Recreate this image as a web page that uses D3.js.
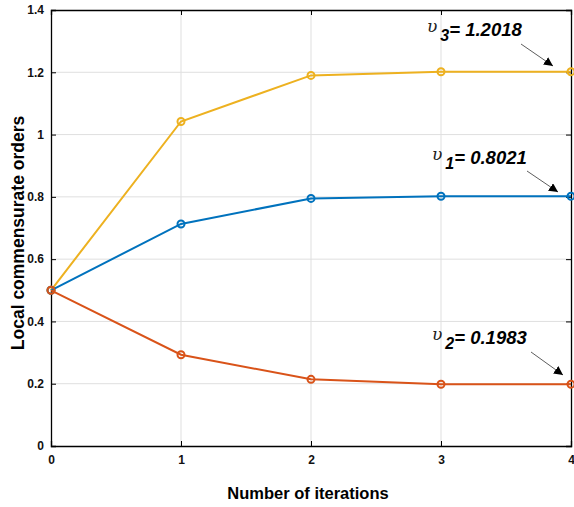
<!DOCTYPE html>
<html><head><meta charset="utf-8">
<script src="https://cdn.jsdelivr.net/npm/d3@7"></script>
<style>body{margin:0;background:#fff}svg{display:block}text{font-family:"Liberation Sans",Arial,sans-serif}</style>
</head><body>
<svg id="c" width="574" height="507"></svg>
<script>
const iterations = [0, 1, 2, 3, 4];
const v3 = [0.5, 1.042, 1.190, 1.2018, 1.2018];
const v1 = [0.5, 0.713, 0.795, 0.8021, 0.8021];
const v2 = [0.5, 0.293, 0.214, 0.1983, 0.1983];
const yTicks = [0, 0.2, 0.4, 0.6, 0.8, 1, 1.2, 1.4];
const xTicks = [0, 1, 2, 3, 4];
const seriesNames = ["v3", "v1", "v2"];
const colors = ["#EDB120", "#0072BD", "#D95319"];
const labels = [["3", "= 1.2018"], ["1", "= 0.8021"], ["2", "= 0.1983"]];

const svg = d3.select("#c");
const L = 51, R = 571, T = 10, B = 446;
const x = d3.scaleLinear().domain([0, 4]).range([L, R]);
const y = d3.scaleLinear().domain([0, 1.4]).range([B, T]);

// grid
svg.append("g").selectAll("line").data(xTicks.slice(1, -1)).join("line")
  .attr("x1", d => x(d)).attr("x2", d => x(d)).attr("y1", T).attr("y2", B)
  .attr("stroke", "#dfdfdf").attr("stroke-width", 1);
svg.append("g").selectAll("line").data(yTicks.slice(1, -1)).join("line")
  .attr("y1", d => y(d)).attr("y2", d => y(d)).attr("x1", L).attr("x2", R)
  .attr("stroke", "#dfdfdf").attr("stroke-width", 1);

// axes
const fmt = d => d === 0 ? "0" : String(+d.toFixed(1));
const ax = svg.append("g").attr("transform", `translate(0,${B})`)
  .call(d3.axisBottom(x).tickValues(xTicks).tickFormat(d3.format("d")).tickSize(-5).tickPadding(9));
const ay = svg.append("g").attr("transform", `translate(${L},0)`)
  .call(d3.axisLeft(y).tickValues(yTicks).tickFormat(fmt).tickSize(-5).tickPadding(7));
const axT = svg.append("g").attr("transform", `translate(0,${T})`)
  .call(d3.axisTop(x).tickValues(xTicks).tickFormat("").tickSize(-5));
const ayR = svg.append("g").attr("transform", `translate(${R},0)`)
  .call(d3.axisRight(y).tickValues(yTicks).tickFormat("").tickSize(-5));
[ax, ay, axT, ayR].forEach(g => {
  g.select(".domain").attr("stroke", "#000").attr("stroke-width", 1.3);
  g.selectAll(".tick line").attr("stroke", "#000");
  g.selectAll("text").attr("font-size", 12).attr("font-weight", "bold").attr("fill", "#111");
});

// lines
const data = [v3, v1, v2];
const line = d3.line().x((d, i) => x(iterations[i])).y(d => y(d));
data.forEach((vals, k) => {
  svg.append("path").datum(vals).attr("d", line)
    .attr("fill", "none").attr("stroke", colors[k]).attr("stroke-width", 2);
  svg.append("g").selectAll("circle").data(vals).join("circle")
    .attr("cx", (d, i) => x(iterations[i])).attr("cy", d => y(d)).attr("r", 3.5)
    .attr("fill", "none").attr("stroke", colors[k]).attr("stroke-width", 2);
});

// annotations
const ann = [
  {tx: 427, ty: 32, ax1: 521, ay1: 44, ax2: 553, ay2: 66},
  {tx: 432, ty: 160, ax1: 527, ay1: 171, ax2: 558, ay2: 192},
  {tx: 432, ty: 340, ax1: 531, ay1: 352, ax2: 563, ay2: 375}
];
svg.append("defs").append("marker").attr("id", "ah").attr("viewBox", "0 0 10 10")
  .attr("refX", 10).attr("refY", 5).attr("markerWidth", 9).attr("markerHeight", 9)
  .attr("orient", "auto").attr("markerUnits", "userSpaceOnUse")
  .append("path").attr("d", "M0,0 L10,5 L0,10 Z").attr("fill", "#000");
ann.forEach((a, k) => {
  const t = svg.append("text").attr("x", a.tx).attr("y", a.ty);
  t.append("tspan").text("υ").attr("font-family", "DejaVu Serif, Liberation Serif, serif")
    .attr("font-style", "italic").attr("font-size", 17).attr("fill", "#222");
  t.append("tspan").text(labels[k][0]).attr("dx", 3).attr("dy", 9).attr("font-weight", "bold")
    .attr("font-style", "italic").attr("font-size", 16);
  t.append("tspan").text(labels[k][1]).attr("dy", -5).attr("font-weight", "bold")
    .attr("font-style", "italic").attr("font-size", 18.5);
  svg.append("line").attr("x1", a.ax1).attr("y1", a.ay1).attr("x2", a.ax2).attr("y2", a.ay2)
    .attr("stroke", "#333").attr("stroke-width", 0.8).attr("marker-end", "url(#ah)");
});

// axis titles
svg.append("text").attr("x", 308).attr("y", 499).attr("text-anchor", "middle")
  .attr("font-size", 16.5).attr("font-weight", "bold").text("Number of iterations");
svg.append("text").attr("transform", `translate(24,233) rotate(-90)`)
  .attr("text-anchor", "middle").attr("font-size", 17.5).attr("font-weight", "bold")
  .text("Local commensurate orders");
</script>
</body></html>
